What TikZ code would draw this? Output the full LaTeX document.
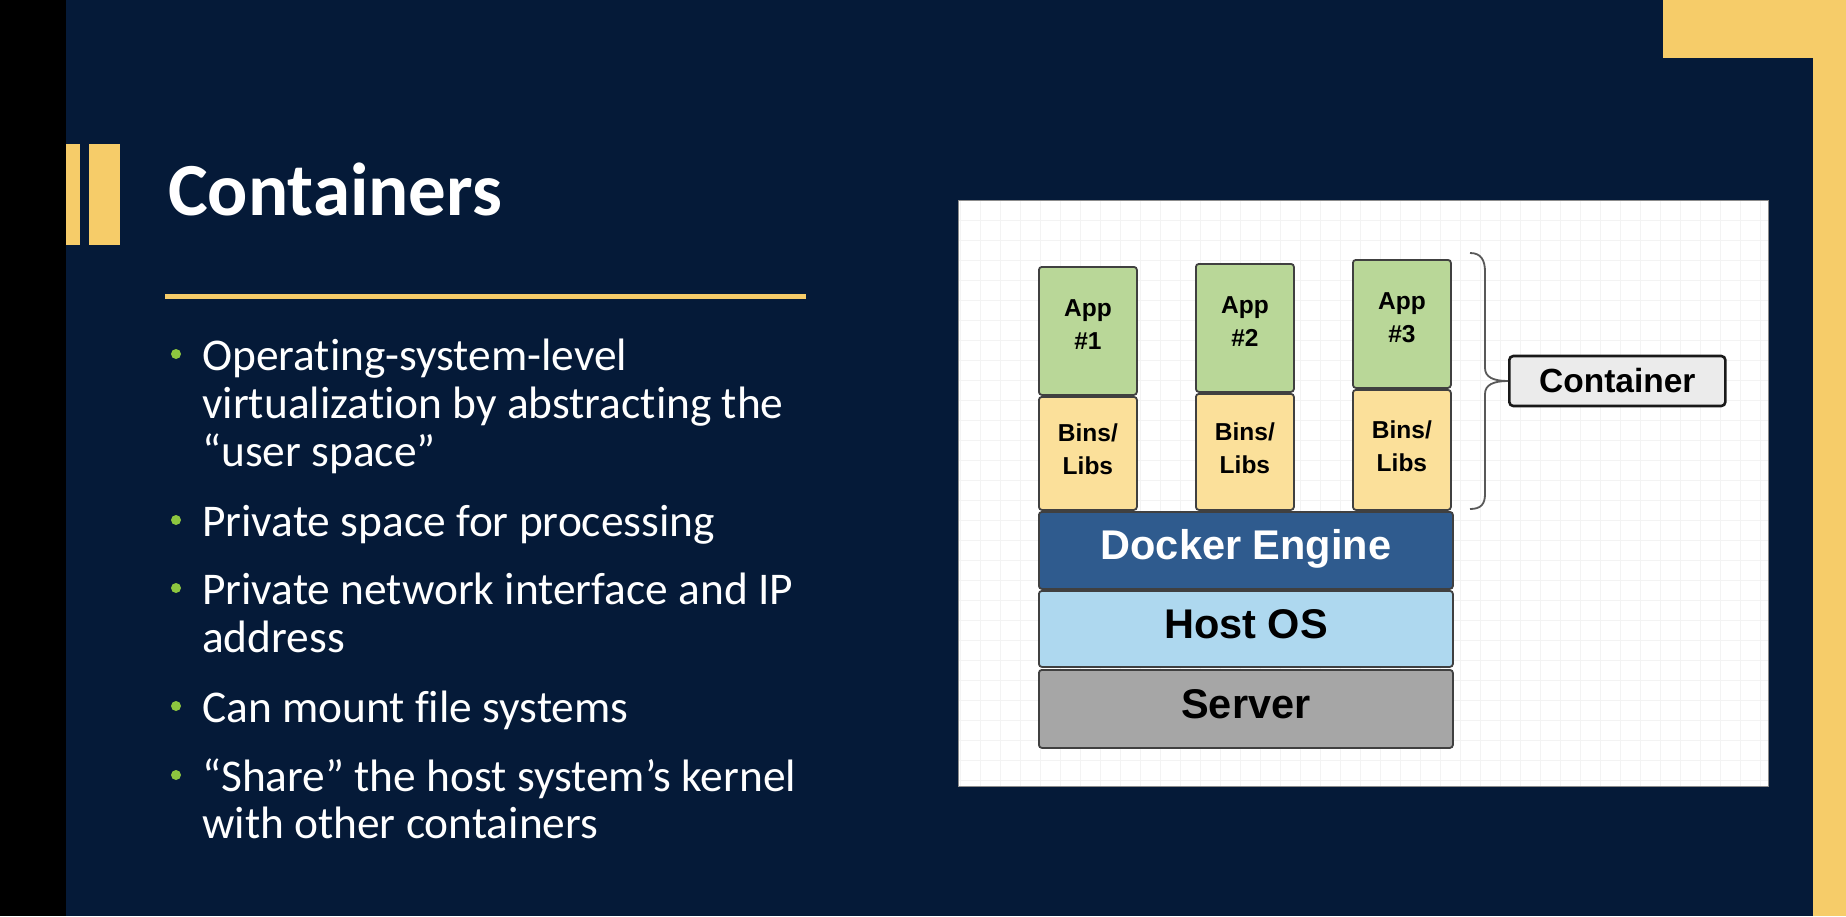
\documentclass[tikz,border=0pt]{standalone}
\usepackage{fontspec}
\setmainfont{Carlito}[Ligatures=NoCommon]
\newfontfamily\arialf{Liberation Sans}
\definecolor{navy}{HTML}{051A38}
\definecolor{slideyellow}{HTML}{F6CC69}
\definecolor{bulletgreen}{HTML}{8DC63F}
\definecolor{appgreen}{HTML}{B9D798}
\definecolor{binsyellow}{HTML}{FBE09A}
\definecolor{dockerblue}{HTML}{2F5B8E}
\definecolor{hostblue}{HTML}{AED8EF}
\definecolor{servergray}{HTML}{A6A6A6}
\definecolor{contfill}{HTML}{EBEBEB}
\definecolor{gridgray}{HTML}{F3F3F3}
\definecolor{boxborder}{HTML}{404040}
\begin{document}
\begin{tikzpicture}[x=1pt,y=-1pt,
  bullettext/.style={anchor=base west, inner sep=0pt, text=white, font=\fontsize{45.4}{48}\selectfont},
  bulletdot/.style={circle, fill=bulletgreen, inner sep=0pt, minimum size=10pt},
  layerbox/.style={draw=boxborder, line width=1.8pt, rounded corners=3pt, anchor=north west, inner sep=0pt},
  appbox/.style={layerbox, fill=appgreen, minimum width=98pt, minimum height=128pt},
  binsbox/.style={layerbox, fill=binsyellow, minimum width=98pt},
  smalltext/.style={inner sep=0pt, align=center, font=\arialf\bfseries\fontsize{24.5}{33}\selectfont},
  basebox/.style={layerbox, minimum width=414pt, font=\arialf\bfseries\fontsize{41.5}{48}\selectfont, text height=29.7pt, text depth=11pt},
  bracestyle/.style={draw=black!65, line width=1.8pt}
]
\useasboundingbox (0,0) rectangle (1846,916);
% background
\fill[navy] (0,0) rectangle (1846,916);
\fill[black] (0,0) rectangle (66,916);
\fill[slideyellow] (1813,0) rectangle (1846,916);
\fill[slideyellow] (1663,0) rectangle (1846,58);
% title decoration
\fill[slideyellow] (66,144) rectangle (80,245);
\fill[slideyellow] (89,144) rectangle (120,245);
\node[anchor=base west, inner sep=0pt, text=white, font=\bfseries\fontsize{75}{80}\selectfont] (title) at (168,215) {Containers};
\fill[slideyellow] (165,293.5) rectangle (806,298.5);
% bullets
\node[bulletdot] (d1) at (176,354) {};
\node[bullettext] (b1a) at (202,370) {Operating-system-level};
\node[bullettext] (b1b) at (202,418) {virtualization by abstracting the};
\node[bullettext] (b1c) at (202,466) {“user space”};
\node[bulletdot] (d2) at (176,520) {};
\node[bullettext] (b2a) at (202,536) {Private space for processing};
\node[bulletdot] (d3) at (176,588) {};
\node[bullettext] (b3a) at (202,604) {Private network interface and IP};
\node[bullettext] (b3b) at (202,652) {address};
\node[bulletdot] (d4) at (176,706) {};
\node[bullettext] (b4a) at (202,722) {Can mount file systems};
\node[bulletdot] (d5) at (176,775) {};
\node[bullettext] (b5a) at (202,791) {“Share” the host system’s kernel};
\node[bullettext] (b5b) at (202,838) {with other containers};
% diagram panel
\fill[white] (958,200) rectangle (1768,786);
\begin{scope}
\clip (958,200) rectangle (1768,786);
\draw[gridgray, line width=1pt] (958,200) grid[step=20pt] (1768,786);
\end{scope}
\draw[black!45, line width=0.8pt] (958,200) rectangle (1768,786);
% containers
\node[appbox] (app1) at (1038,266) {};
\node[binsbox, minimum height=113pt] (bins1) at (1038,396) {};
\node[appbox] (app2) at (1195,263) {};
\node[binsbox, minimum height=116pt] (bins2) at (1195,393) {};
\node[appbox] (app3) at (1352,259) {};
\node[binsbox, minimum height=120pt] (bins3) at (1352,389) {};
\node[smalltext] (app1t) at ([yshift=6pt]app1.center) {App\\\#1};
\node[smalltext] (bins1t) at ([yshift=4pt]bins1.center) {Bins/\\Libs};
\node[smalltext] (app2t) at ([yshift=6pt]app2.center) {App\\\#2};
\node[smalltext] (bins2t) at ([yshift=4pt]bins2.center) {Bins/\\Libs};
\node[smalltext] (app3t) at ([yshift=6pt]app3.center) {App\\\#3};
\node[smalltext] (bins3t) at ([yshift=4pt]bins3.center) {Bins/\\Libs};
% layers
\node[basebox, fill=dockerblue, text=white, minimum height=77pt] (docker) at (1038,511) {Docker Engine};
\node[basebox, fill=hostblue, minimum height=76pt] (host) at (1038,590) {Host OS};
\node[basebox, fill=servergray, minimum height=78pt] (server) at (1038,669) {Server};
% container label
\node[draw=black!90, line width=2.6pt, fill=contfill, rounded corners=4pt, anchor=west, minimum width=216pt, minimum height=50pt, inner sep=0pt, font=\arialf\bfseries\fontsize{33.5}{36}\selectfont] (cont) at (1508,381) {Container};
% brace
\coordinate (btop) at (1470,253);
\coordinate (bbot) at (1470,509);
\draw[bracestyle] (btop) .. controls (1481,253) and (1485,260) .. (1485,272)
  -- (1485,368) .. controls (1485,377) and (1493,381) .. (cont.west)
  .. controls (1493,381) and (1485,385) .. (1485,394)
  -- (1485,494) .. controls (1485,504) and (1481,509) .. (bbot);
\end{tikzpicture}
\end{document}
